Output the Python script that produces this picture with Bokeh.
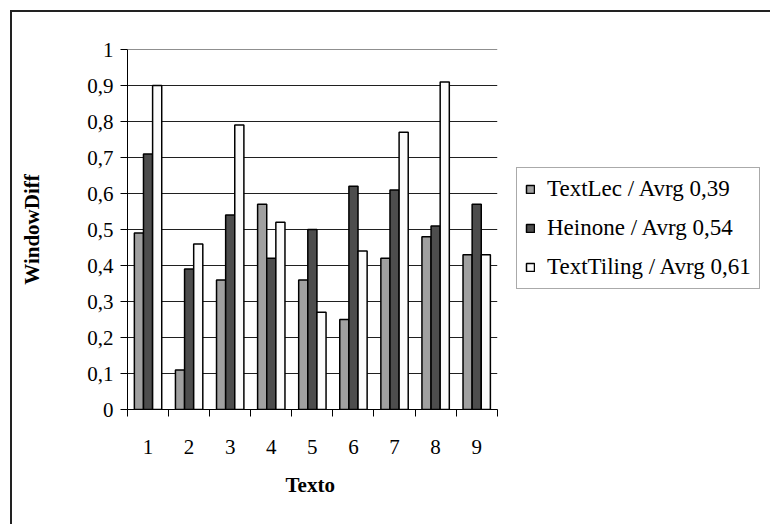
from bokeh.plotting import figure
from bokeh.models import (ColumnDataSource, FixedTicker, CustomJSTickFormatter,
                          Legend, LegendItem, Range1d, Title)
from bokeh.transform import dodge
from bokeh.embed import file_html
from bokeh.resources import INLINE

textos = [1, 2, 3, 4, 5, 6, 7, 8, 9]
textlec = [0.49, 0.11, 0.36, 0.57, 0.36, 0.25, 0.42, 0.48, 0.43]
heinone = [0.71, 0.39, 0.54, 0.42, 0.50, 0.62, 0.61, 0.51, 0.57]
texttiling = [0.90, 0.46, 0.79, 0.52, 0.27, 0.44, 0.77, 0.91, 0.43]
series_names = ["TextLec / Avrg 0,39", "Heinone / Avrg 0,54", "TextTiling / Avrg 0,61"]
y_ticks = [0, 0.1, 0.2, 0.3, 0.4, 0.5, 0.6, 0.7, 0.8, 0.9, 1.0]

FONT = "Liberation Serif"
colors = ["#A0A0A0", "#4D4D4D", "#FBFBFB"]
bw = 0.222
offsets = [-bw, 0.0, bw]
x_lo = textos[0] - 0.5
x_hi = textos[-1] + 0.5

# frame extends to the right edge so the legend can sit inside it
p = figure(width=760, height=514, output_backend="svg", toolbar_location=None,
           x_range=Range1d(x_lo, 16.2), y_range=Range1d(0, 1),
           min_border_left=115, min_border_right=0, min_border_top=37,
           min_border_bottom=117)
p.margin = (10, 0, 0, 10)
p.styles = {"border-top": "2px solid #222", "border-left": "2px solid #222"}
p.outline_line_color = None
p.background_fill_color = "white"
p.border_fill_color = "white"

# horizontal gridlines limited to the category span
p.segment(x0=[x_lo] * len(y_ticks), x1=[x_hi] * len(y_ticks), y0=y_ticks, y1=y_ticks,
          line_color="#202020", line_width=1)

src = ColumnDataSource(dict(x=textos, a=textlec, b=heinone, c=texttiling))
renderers = []
for key, col, off in zip(["a", "b", "c"], colors, offsets):
    r = p.vbar(x=dodge("x", off), top=key, width=bw, source=src,
               fill_color=col, line_color="black", line_width=1.5)
    renderers.append(r)

p.xaxis.bounds = (x_lo, x_hi)
p.xaxis.ticker = FixedTicker(ticks=textos, minor_ticks=[x_lo + i for i in range(len(textos) + 1)])
p.xaxis.major_tick_out = 0
p.xaxis.major_tick_in = 0
p.xaxis.minor_tick_out = 7
p.xaxis.minor_tick_in = 0
p.xaxis.minor_tick_line_color = "black"
p.xaxis.major_label_standoff = 23

p.yaxis.ticker = FixedTicker(ticks=y_ticks)
p.yaxis.formatter = CustomJSTickFormatter(
    code="const s = (Math.round(tick*10)/10).toString(); return s.replace('.', ',');")
p.yaxis.major_tick_out = 7
p.yaxis.major_tick_in = 0
p.yaxis.minor_tick_line_color = None
p.yaxis.major_label_standoff = 7
p.yaxis.axis_label = "WindowDiff"
p.yaxis.axis_label_standoff = 40

for ax in [p.xaxis[0], p.yaxis[0]]:
    ax.major_label_text_font = FONT
    ax.major_label_text_font_size = "21px"
    ax.major_label_text_color = "black"
    ax.axis_label_text_font = FONT
    ax.axis_label_text_font_size = "21px"
    ax.axis_label_text_font_style = "bold"
    ax.axis_label_text_color = "black"
    ax.axis_line_color = "black"
    ax.axis_line_width = 1
    ax.major_tick_line_color = "black"

# x-axis title centred under the categories
xtitle = Title(text="Texto", align="left", offset=158, standoff=28,
               text_font=FONT, text_font_size="21px", text_font_style="bold",
               text_color="black")
p.add_layout(xtitle, "below")

p.xgrid.grid_line_color = None
p.ygrid.grid_line_color = None

legend = Legend(items=[LegendItem(label=n, renderers=[r]) for n, r in zip(series_names, renderers)],
                location=(389, 120))
legend.label_text_font = FONT
legend.label_text_font_size = "23px"
legend.label_text_color = "black"
legend.glyph_width = 10
legend.glyph_height = 10
legend.label_height = 22
legend.spacing = 13
legend.padding = 8
legend.margin = 0
legend.label_standoff = 12
legend.border_line_color = "#555555"
legend.border_line_width = 1.5
legend.background_fill_color = "white"
p.add_layout(legend, "center")

open("out.html", "w").write(file_html(p, INLINE))
